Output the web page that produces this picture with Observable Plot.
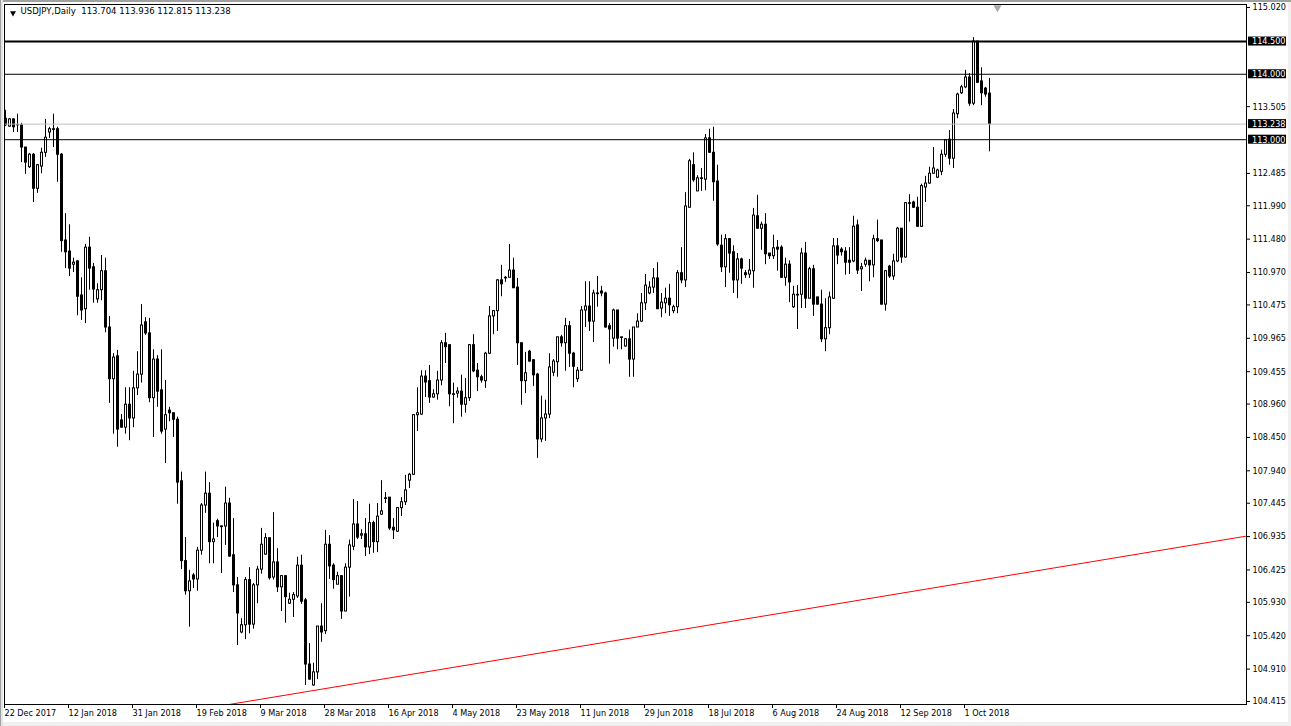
<!DOCTYPE html>
<html>
<head>
<meta charset="utf-8">
<script src="https://cdn.jsdelivr.net/npm/d3@7"></script>
<script src="https://cdn.jsdelivr.net/npm/@observablehq/plot@0.6"></script>
<style>
html, body { margin: 0; padding: 0; background: #ffffff; }
#wrap { position: relative; width: 1291px; height: 726px; overflow: hidden; }
#wrap svg { display: block; }
#border { position: absolute; left: 0; top: 0; width: 1291px; height: 726px; pointer-events: none;
  box-shadow: inset 1px 0 0 #a0a0a0, inset 3px 0 0 #e4e4e4, inset 0 2px 0 #a0a0a0,
              inset -3px 0 0 #f0f0f0, inset 0 -4px 0 #f0f0f0; }
</style>
</head>
<body>
<div id="wrap"><div id="border"></div></div>
<script>
// ---- Data (USDJPY, Daily, 22 Dec 2017 .. 8 Oct 2018) ----
const symbolName = "USDJPY,Daily";

const open = [
113.32,113.20,113.31,113.22,113.22,112.88,112.58,112.77,112.25,112.59,
112.80,113.11,113.16,113.16,112.77,111.46,111.29,111.09,111.14,110.62,
110.41,111.35,111.05,110.56,110.70,110.99,110.13,109.34,109.69,108.71,
108.60,108.95,108.74,109.20,109.41,110.21,110.04,109.05,109.64,109.17,
108.57,108.86,108.82,108.72,107.78,106.56,106.10,106.34,106.28,106.72,
107.41,107.59,106.85,107.17,107.09,107.09,107.44,106.65,106.19,105.47,
105.58,106.27,105.59,106.19,106.43,106.66,106.91,106.31,106.54,106.16,
106.33,105.91,105.97,106.02,106.49,105.96,104.98,104.66,104.86,105.56,
105.49,106.81,106.49,106.20,106.33,105.79,106.46,106.78,107.12,106.95,
106.97,106.77,107.14,106.85,107.27,107.52,107.53,107.07,107.01,107.37,
107.46,107.79,107.88,108.79,108.80,109.38,109.31,109.06,109.11,109.32,
109.89,109.86,109.11,109.12,109.15,108.95,109.05,109.86,109.47,109.37,
109.31,109.73,110.30,110.38,110.85,110.89,110.89,111.00,110.74,109.89,
109.31,109.76,109.63,109.41,108.42,108.74,108.80,109.44,109.60,109.98,
109.89,110.15,109.73,109.34,109.47,110.39,110.45,110.22,110.65,110.68,
110.65,110.15,109.96,110.39,109.98,109.84,109.95,109.64,110.13,110.22,
110.50,110.65,110.74,110.88,110.42,110.50,110.57,110.38,110.44,110.96,
110.85,111.96,112.61,112.21,112.41,112.39,113.02,112.80,112.36,111.38,
111.05,111.48,111.28,110.85,111.17,110.96,110.94,110.99,111.83,111.64,
111.70,111.26,111.22,111.35,111.35,110.89,111.09,110.44,110.63,110.63,
111.26,110.57,111.02,110.59,110.48,109.95,110.12,110.57,111.37,111.32,
111.29,111.15,111.14,111.69,111.02,111.09,111.15,111.08,111.48,111.46,
110.48,111.06,110.91,111.14,111.64,111.20,112.03,112.04,111.96,111.67,
112.27,112.33,112.48,112.42,112.51,112.77,113.00,112.71,113.39,113.71,
113.80,113.95,113.55,114.50,113.89,113.78,113.704
];

const high = [
113.45,113.32,113.32,113.39,113.25,112.88,112.79,112.79,112.62,112.87,
113.31,113.19,113.39,113.19,112.79,111.87,111.70,111.19,111.15,110.89,
111.40,111.51,111.11,110.80,111.23,111.19,110.30,109.73,109.78,108.80,
109.21,109.21,109.46,109.76,110.48,110.28,110.27,109.79,109.70,109.79,
109.32,108.91,108.82,108.76,107.92,106.92,106.42,106.37,106.77,107.44,
107.92,107.76,107.14,107.20,107.10,107.69,107.52,107.21,106.31,105.68,
106.31,106.46,106.22,106.48,107.06,106.98,106.91,107.30,106.75,106.34,
106.34,106.07,106.08,106.62,106.65,105.99,105.30,105.00,105.56,105.91,
107.03,106.95,106.52,106.39,106.34,106.52,106.88,107.50,107.47,107.04,
107.21,107.43,107.17,107.44,107.79,107.61,107.53,107.21,107.37,107.53,
107.87,107.90,108.80,109.21,109.47,109.47,109.55,109.18,109.46,109.93,
110.04,109.86,109.28,109.21,109.40,109.35,109.87,110.02,109.58,109.40,
109.75,110.45,110.39,110.86,111.08,110.91,111.40,111.19,110.88,109.89,
109.75,109.78,109.64,109.43,109.08,109.02,109.73,109.64,109.98,110.01,
110.27,110.22,109.75,109.52,110.45,110.83,110.83,110.70,110.91,110.76,
110.67,110.19,110.41,110.39,109.98,109.96,110.09,110.13,110.34,110.65,
110.94,110.83,111.03,111.12,110.65,110.73,110.79,110.47,111.00,111.35,
112.19,112.70,112.80,112.45,112.56,113.08,113.16,113.19,112.61,111.54,
111.55,111.49,111.38,111.26,111.19,111.00,111.17,111.95,112.15,111.74,
111.87,111.26,111.54,111.46,111.38,111.19,111.15,110.76,110.77,111.34,
111.43,111.05,111.08,110.59,110.70,110.57,110.67,111.49,111.49,111.35,
111.35,111.35,111.83,111.77,111.11,111.19,111.15,111.54,111.77,111.46,
111.00,111.08,111.25,111.66,111.64,112.04,112.16,112.06,112.12,112.32,
112.44,112.58,112.88,112.55,112.84,113.00,113.14,113.46,113.71,113.83,
114.06,114.01,114.56,114.50,114.10,113.80,113.936
];

const low = [
113.20,113.19,113.11,113.11,112.65,112.47,112.56,112.04,112.18,112.48,
112.73,113.02,112.88,112.35,111.28,111.03,110.91,110.97,110.31,110.24,
110.19,110.70,110.50,110.50,110.54,110.05,108.97,108.50,108.30,108.59,
108.50,108.40,108.60,109.09,109.28,110.01,108.98,108.45,108.91,108.50,
108.05,108.69,108.45,107.43,106.43,106.04,105.55,106.14,106.10,106.65,
107.29,106.52,106.52,106.92,106.37,106.80,106.62,106.08,105.27,105.45,
105.36,105.45,105.52,105.91,106.36,106.65,106.27,106.27,106.08,105.79,
105.61,105.90,105.70,105.99,105.90,104.66,104.74,104.65,104.75,105.32,
105.44,106.28,106.13,106.20,105.67,105.79,106.01,106.72,106.89,106.89,
106.63,106.66,106.68,106.69,107.26,107.44,107.03,106.89,107.00,107.24,
107.41,107.67,107.87,108.54,108.79,109.06,108.97,109.05,109.02,109.24,
109.58,108.92,108.66,109.05,108.76,108.82,109.00,109.44,109.15,109.28,
109.20,109.72,110.02,110.07,110.60,110.82,110.89,110.73,109.55,108.94,
109.12,109.60,109.23,108.13,108.37,108.39,108.74,109.38,109.37,109.83,
109.46,109.52,109.21,109.29,109.46,110.13,110.07,109.90,110.44,110.60,
110.12,109.57,109.83,109.79,109.79,109.83,109.37,109.37,110.13,110.21,
110.39,110.63,110.65,110.41,110.28,110.34,110.30,110.34,110.34,110.80,
110.74,111.96,112.35,112.21,112.21,112.22,112.79,112.06,111.37,110.97,
110.74,110.96,110.65,110.57,110.79,110.88,110.88,110.73,111.63,111.31,
111.09,111.17,111.17,110.99,110.88,110.76,110.51,110.42,110.10,110.42,
110.42,110.57,110.30,110.47,109.90,109.76,110.02,110.56,111.09,111.22,
110.93,110.94,111.12,110.94,110.68,111.05,110.83,110.89,111.43,110.47,
110.38,110.88,110.85,111.12,111.11,111.19,111.74,111.95,111.66,111.66,
112.04,112.32,112.48,112.41,112.45,112.73,112.61,112.56,113.32,113.69,
113.78,113.51,113.52,113.86,113.52,113.65,112.815
];

const close = [
113.22,113.31,113.19,113.22,112.88,112.65,112.77,112.25,112.61,112.80,
113.03,113.16,113.15,112.77,111.45,111.28,111.03,111.12,110.60,110.39,
111.35,111.03,110.71,110.70,110.99,110.13,109.34,109.67,108.57,108.60,
108.95,108.74,109.20,109.41,110.16,110.04,109.05,109.64,109.15,108.54,
108.79,108.82,108.72,107.76,106.56,106.10,106.25,106.28,106.72,107.41,
107.59,106.85,106.89,107.09,107.08,107.44,106.63,106.19,105.76,105.58,
106.27,105.59,106.19,106.43,106.81,106.91,106.30,106.54,106.16,106.33,
106.01,105.97,106.04,106.49,105.94,104.98,104.75,104.86,105.56,105.47,
106.81,106.48,106.27,106.33,105.79,106.46,106.80,107.12,106.92,106.97,
106.77,107.14,106.85,107.24,107.32,107.51,107.06,107.03,107.37,107.46,
107.64,107.88,108.79,108.82,109.38,109.29,109.06,109.11,109.32,109.89,
109.83,109.11,109.10,109.15,108.95,109.05,109.86,109.46,109.37,109.32,
109.73,110.30,110.38,110.85,110.79,110.88,111.00,110.73,109.89,109.31,
109.43,109.61,109.40,108.42,108.74,108.80,109.52,109.61,109.98,109.89,
110.15,109.73,109.53,109.47,110.39,110.45,110.22,110.65,110.64,110.65,
110.13,110.10,110.39,109.96,109.97,109.95,109.64,110.13,110.22,110.50,
110.77,110.74,110.88,110.41,110.51,110.57,110.47,110.44,110.96,110.85,
111.98,112.67,112.38,112.41,112.40,113.02,112.80,112.35,111.40,111.05,
111.48,111.26,110.85,111.17,111.03,110.93,111.00,111.84,111.64,111.70,
111.25,111.22,111.34,111.32,110.89,111.09,110.82,110.63,110.62,111.26,
110.57,111.02,110.48,110.48,109.95,110.12,110.59,111.37,111.23,111.28,
111.12,111.12,111.67,111.00,111.05,111.15,111.08,111.48,111.45,110.48,
110.99,110.91,111.14,111.64,111.20,112.03,112.02,111.96,111.67,112.29,
112.33,112.48,112.56,112.53,112.77,112.99,112.71,113.40,113.69,113.80,
113.95,113.55,114.50,113.87,113.71,113.69,113.238
];

// date labels of the time axis and the bar they sit on
const dateLabels = ["22 Dec 2017","12 Jan 2018","31 Jan 2018","19 Feb 2018","9 Mar 2018","28 Mar 2018",
  "16 Apr 2018","4 May 2018","23 May 2018","11 Jun 2018","29 Jun 2018","18 Jul 2018",
  "6 Aug 2018","24 Aug 2018","12 Sep 2018","1 Oct 2018"];
const dateLabelBars = [0,16,32,48,64,80,96,112,128,144,160,176,192,208,224,240];

// price scale labels
const priceTicks = [115.020,113.505,112.485,111.990,111.480,110.970,110.475,109.965,109.455,
  108.960,108.450,107.940,107.445,106.935,106.425,105.930,105.420,104.910,104.415];

// horizontal levels drawn on the chart
const majorLevel = [114.500];
const minorLevels = [114.000, 113.000];

// visible window (bars and prices)
const barWindow = [-0.25, 310.25];
const priceWindow = [104.369, 115.066];

// red trend line anchors
const trendBars = [56, 310];
const trendPrices = [104.37, 106.94];

// ---- build ----
const bars = open.map((o, i) => ({i, o, h: high[i], l: low[i], c: close[i]}));
const last = bars[bars.length - 1];
const bidPrice = last.c;
const trend = trendBars.map((b, k) => ({bar: b, price: trendPrices[k]}));
const boxPrices = [majorLevel[0], minorLevels[0], bidPrice, minorLevels[1]];
const fmt = d3.format(".3f");
const FONT = '"DejaVu Sans Condensed", "DejaVu Sans", sans-serif';
const titleText = symbolName + "\u00a0\u00a0" + [last.o, last.h, last.l, last.c].map(fmt).join(" ");
const xEnd = barWindow[1];

const chart = Plot.plot({
  width: 1291,
  height: 726,
  marginLeft: 4,
  marginTop: 4,
  marginRight: 45,
  marginBottom: 22,
  style: {fontFamily: FONT, fontSize: "9px", fontStretch: "condensed", color: "black", background: "white"},
  x: {domain: barWindow},
  y: {domain: priceWindow},
  marks: [
    Plot.line(trend, {x: "bar", y: "price", stroke: "#ff0000", strokeWidth: 1, clip: true}),
    Plot.ruleX(bars, {x: "i", y1: "l", y2: "h", stroke: "black", strokeWidth: 1}),
    Plot.rect(bars, {x1: "i", x2: "i", y1: d => Math.min(d.o, d.c), y2: d => Math.max(d.o, d.c),
      fill: "black", insetLeft: -1, insetRight: -2, insetTop: -0.5, insetBottom: -0.5}),
    Plot.rect(bars.filter(d => d.c > d.o), {x1: "i", x2: "i", y1: "o", y2: "c",
      fill: "white", insetLeft: 0, insetRight: -1, insetTop: 0.5, insetBottom: 0.5}),
    Plot.ruleY([bidPrice], {stroke: "#c0c0c0", strokeWidth: 1}),
    Plot.ruleY(minorLevels, {stroke: "black", strokeWidth: 1}),
    Plot.ruleY(majorLevel, {stroke: "black", strokeWidth: 2}),
    Plot.frame({stroke: "black"}),
    Plot.axisX({ticks: dateLabelBars, tickFormat: d => dateLabels[dateLabelBars.indexOf(d)],
      tickSize: 4, tickPadding: 1, textAnchor: "start", dx: -1, label: null, fill: "black", fontSize: 9}),
    Plot.axisY({anchor: "right", ticks: priceTicks, tickFormat: fmt, tickSize: 3, tickPadding: 3,
      label: null, fill: "black", fontSize: 9}),
    Plot.rect(boxPrices, {x1: () => xEnd, x2: () => xEnd, y1: d => d, y2: d => d,
      fill: "black", insetLeft: 2, insetRight: -40, insetTop: -4.5, insetBottom: -4.5}),
    Plot.text(boxPrices, {x: () => xEnd, y: d => d, text: d => fmt(d), dx: 5.5,
      textAnchor: "start", fill: "white", fontSize: 9}),
    Plot.dot([0], {frameAnchor: "top-left", dx: 8.5, dy: 8.5, symbol: "triangle", rotate: 180,
      r: 2.2, fill: "black", stroke: "none"}),
    Plot.text([titleText], {frameAnchor: "top-left", text: d => d, dx: 16, dy: 3, lineAnchor: "top",
      textAnchor: "start", fill: "black", fontSize: 9.5}),
    Plot.dot([bars.length + 1], {x: d => d, frameAnchor: "top", dy: 3, symbol: "triangle", rotate: 180,
      r: 3, fill: "#a8a8a8", stroke: "none"})
  ]
});

document.getElementById("wrap").insertBefore(chart, document.getElementById("border"));
</script>
</body>
</html>
